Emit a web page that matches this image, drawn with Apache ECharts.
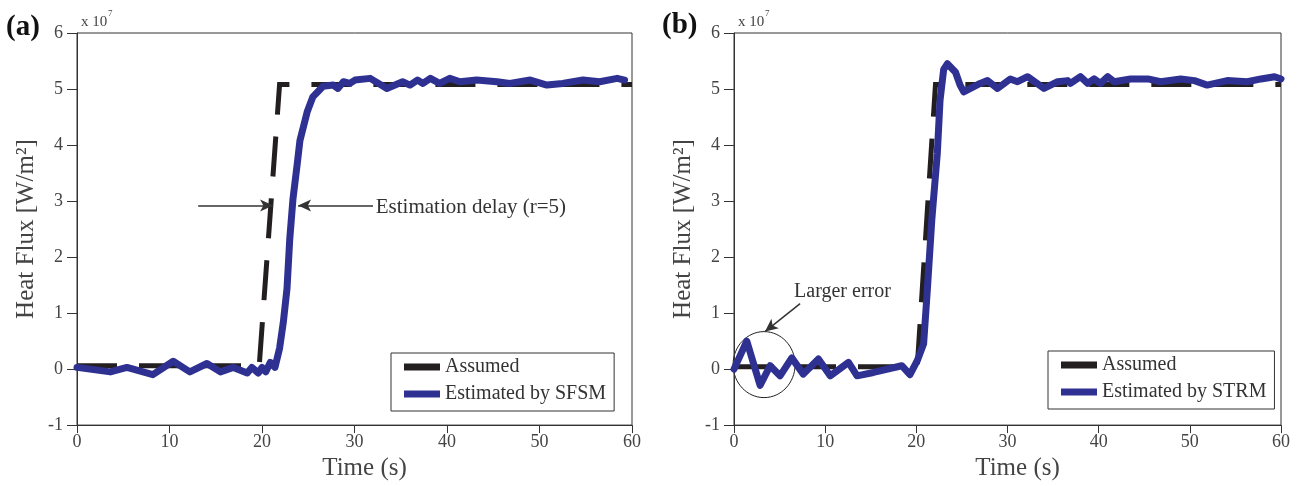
<!DOCTYPE html>
<html>
<head>
<meta charset="utf-8">
<script src="https://cdn.jsdelivr.net/npm/echarts@6/dist/echarts.min.js"></script>
<style>
html,body{margin:0;padding:0;background:#fff;}
#c{width:1301px;height:486px;}
</style>
</head>
<body>
<div id="c"></div>
<script>
// ---- data (time in s, heat flux in 1e7 W/m^2) ----
const xTicks = [0, 10, 20, 30, 40, 50, 60];
const yTicks = [-1, 0, 1, 2, 3, 4, 5, 6];

const tAssumedA = [0, 19.7, 21.9, 60];
const qAssumedA = [0.06, 0.06, 5.08, 5.08];

const tSFSM = [0, 3.6, 5.4, 8.2, 10.4, 12.2, 14.05, 15.5, 16.9, 18.4, 18.9, 19.6, 20.0, 20.4, 20.9, 21.4, 21.9, 22.3, 22.7, 23.0, 23.35, 23.8, 24.1, 24.9, 25.5, 26.6, 27.7, 28.2, 28.8, 29.5, 30.05, 31.7, 33.5, 35.2, 36.0, 36.8, 37.4, 38.2, 39.2, 40.3, 41.4, 43.2, 45.4, 46.8, 49.0, 50.8, 52.5, 54.7, 56.5, 58.4, 59.2];
const qSFSM = [0.03, -0.05, 0.03, -0.1, 0.14, -0.05, 0.1, -0.05, 0.03, -0.07, 0.03, -0.07, 0.03, -0.05, 0.12, 0.03, 0.37, 0.83, 1.43, 2.32, 3.04, 3.65, 4.08, 4.6, 4.86, 5.05, 5.07, 5.01, 5.13, 5.1, 5.16, 5.19, 5.01, 5.13, 5.07, 5.16, 5.1, 5.19, 5.1, 5.19, 5.13, 5.16, 5.13, 5.1, 5.16, 5.07, 5.1, 5.16, 5.13, 5.19, 5.16];

const tAssumedB = [0, 20.1, 22.1, 60];
const qAssumedB = [0.04, 0.04, 5.08, 5.08];

const tSTRM = [0, 1.4, 2.86, 3.96, 5.05, 6.34, 7.6, 9.26, 10.55, 12.56, 13.5, 15.3, 18.4, 19.3, 20.1, 20.8, 21.2, 21.7, 22.3, 22.6, 23.0, 23.4, 24.3, 24.8, 25.2, 27.0, 27.8, 28.9, 30.3, 31.1, 32.2, 34.0, 35.5, 36.6, 36.9, 38.0, 38.8, 39.5, 40.2, 41.0, 41.7, 43.5, 45.4, 46.8, 49.0, 50.5, 51.9, 54.1, 56.3, 57.8, 59.3, 60];
const qSTRM = [0, 0.5, -0.29, 0.06, -0.12, 0.2, -0.09, 0.18, -0.12, 0.12, -0.12, -0.06, 0.06, -0.1, 0.15, 0.45, 1.4, 2.67, 3.85, 4.8, 5.35, 5.45, 5.3, 5.07, 4.95, 5.1, 5.15, 5.01, 5.18, 5.13, 5.22, 5.01, 5.13, 5.15, 5.1, 5.22, 5.1, 5.18, 5.1, 5.22, 5.13, 5.18, 5.18, 5.13, 5.18, 5.15, 5.07, 5.15, 5.13, 5.18, 5.22, 5.18];

// annotation anchors (data coords)
const delayArrowL = [[13.1, 2.92], [21.2, 2.92]];
const delayArrowR = [[32.0, 2.92], [23.9, 2.92]];
const delayText = [32.3, 2.92];
const errArrow = [[7.25, 1.17], [3.4, 0.67]];
const errText = [11.9, 1.38];
const errCircle = [3.3, 0.08];

const FONT = "'Liberation Serif','Times New Roman',serif";
const AX = '#333';
const BLUE = '#2e3192';
const BLACK = '#231f20';

function zip(a, b) { return a.map((v, i) => [v, b[i]]); }

function xAxis(idx) {
  return {
    type: 'value', gridIndex: idx, min: xTicks[0], max: xTicks[xTicks.length - 1], interval: 10,
    name: 'Time (s)', nameLocation: 'middle', nameGap: 28,
    nameTextStyle: { fontFamily: FONT, fontSize: 25, color: '#444', padding: [0, 0, 0, 20] },
    axisLine: { show: true, onZero: false, lineStyle: { color: AX, width: 1 } },
    axisTick: { show: true, inside: false, length: 8, lineStyle: { color: AX } },
    axisLabel: { fontFamily: FONT, fontSize: 18, color: '#444', margin: 8 },
    splitLine: { show: false }
  };
}
function yAxis(idx) {
  return {
    type: 'value', gridIndex: idx, min: yTicks[0], max: yTicks[yTicks.length - 1], interval: 1,
    name: 'Heat Flux [W/m²]', nameLocation: 'middle', nameGap: 38, nameRotate: 90,
    nameTextStyle: { fontFamily: FONT, fontSize: 25, color: '#444' },
    axisLine: { show: true, onZero: false, lineStyle: { color: AX, width: 1 } },
    axisTick: { show: true, inside: false, length: 10, lineStyle: { color: AX } },
    axisLabel: { fontFamily: FONT, fontSize: 18, color: '#444', margin: 14 },
    splitLine: { show: false }
  };
}
function legend(left, top, names) {
  return {
    orient: 'vertical', left: left, top: top, data: names, icon: 'rect',
    itemWidth: 36, itemHeight: 7, itemGap: 7, padding: [4, 8, 7, 13],
    borderColor: '#333', borderWidth: 1, selectedMode: false,
    textStyle: { fontFamily: FONT, fontSize: 20, color: '#333', lineHeight: 20 }
  };
}
const arrowMark = (pairs) => ({
  silent: true, animation: false, symbol: ['none', 'arrow'], symbolSize: [9, 13],
  lineStyle: { color: '#333', width: 1.5, type: 'solid' },
  label: { show: false },
  data: pairs.map(p => [{ coord: p[0] }, { coord: p[1] }])
});

const chart = echarts.init(document.getElementById('c'), null, { renderer: 'canvas' });
chart.setOption({
  animation: false,
  backgroundColor: '#fff',
  grid: [
    { left: 77, right: 669, top: 33, bottom: 56, show: true, borderColor: AX, borderWidth: 1 },
    { left: 734, right: 20, top: 33, bottom: 56, show: true, borderColor: AX, borderWidth: 1 }
  ],
  xAxis: [xAxis(0), xAxis(1)],
  yAxis: [yAxis(0), yAxis(1)],
  legend: [
    legend(391, 353, ['Assumed', 'Estimated by SFSM']),
    legend(1048, 351, ['Assumed', 'Estimated by STRM'])
  ],
  series: [
    { name: 'Assumed', type: 'line', xAxisIndex: 0, yAxisIndex: 0, data: zip(tAssumedA, qAssumedA),
      showSymbol: false, symbol: 'none', color: BLACK,
      lineStyle: { color: BLACK, width: 5, type: [40, 22], cap: 'butt', join: 'miter' } },
    { name: 'Estimated by SFSM', type: 'line', xAxisIndex: 0, yAxisIndex: 0, data: zip(tSFSM, qSFSM),
      showSymbol: false, symbol: 'none', color: BLUE,
      lineStyle: { color: BLUE, width: 7, cap: 'round', join: 'round' },
      markLine: arrowMark([delayArrowL, delayArrowR]) },
    { name: 'Assumed', type: 'line', xAxisIndex: 1, yAxisIndex: 1, data: zip(tAssumedB, qAssumedB),
      showSymbol: false, symbol: 'none', color: BLACK,
      lineStyle: { color: BLACK, width: 5, type: [40, 22], cap: 'butt', join: 'miter' } },
    { name: 'Estimated by STRM', type: 'line', xAxisIndex: 1, yAxisIndex: 1, data: zip(tSTRM, qSTRM),
      showSymbol: false, symbol: 'none', color: BLUE,
      lineStyle: { color: BLUE, width: 7, cap: 'round', join: 'round' },
      markLine: arrowMark([errArrow]) }
  ]
});

// annotations positioned through the chart's own scales
const pA = (v) => chart.convertToPixel({ gridIndex: 0 }, v);
const pB = (v) => chart.convertToPixel({ gridIndex: 1 }, v);
const topA = pA([0, 6]), topB = pB([0, 6]);
const dT = pA(delayText), eT = pB(errText), eC = pB(errCircle);
const txt = (x, y, s, size, extra) => Object.assign({
  type: 'text', x: x, y: y, silent: true,
  style: Object.assign({ text: s, fontFamily: FONT, fontSize: size, fill: '#333', textVerticalAlign: 'middle' }, extra || {})
});
chart.setOption({
  graphic: [
    txt(6, 28, '(a)', 29, { fontWeight: 'bold', fill: '#111' }),
    txt(662, 26, '(b)', 29, { fontWeight: 'bold', fill: '#111' }),
    txt(topA[0] + 4, topA[1] - 11, 'x 10', 15, { fill: '#444' }),
    txt(topA[0] + 31, topA[1] - 19, '7', 9, { fill: '#444' }),
    txt(topB[0] + 4, topB[1] - 11, 'x 10', 15, { fill: '#444' }),
    txt(topB[0] + 31, topB[1] - 19, '7', 9, { fill: '#444' }),
    txt(dT[0], dT[1] + 2, 'Estimation delay (r=5)', 21),
    txt(eT[0], eT[1], 'Larger error', 20, { textAlign: 'center' }),
    { type: 'ellipse', silent: true, shape: { cx: eC[0], cy: eC[1], rx: 31, ry: 33 },
      style: { fill: 'none', stroke: '#222', lineWidth: 1 } }
  ]
});
</script>
</body>
</html>
